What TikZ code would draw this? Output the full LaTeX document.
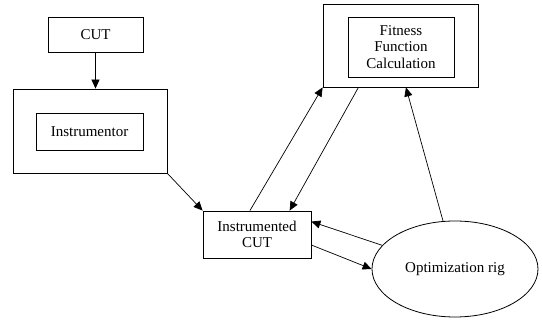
\documentclass[tikz,border=0pt]{standalone}
\usepackage{fontspec}
\setmainfont{Liberation Serif}
\usetikzlibrary{arrows.meta,calc,shapes.geometric}
\begin{document}
\begin{tikzpicture}[x=1pt,y=-1pt,
  box/.style={draw,line width=0.8pt,rectangle,inner sep=0pt,align=center,font=\fontsize{15}{16.5}\selectfont},
  conn/.style={line width=0.7pt,-{Triangle[length=9pt,width=8pt]}}]
\useasboundingbox[fill=white] (0,0) rectangle (542,320);
\node[box,minimum width=95pt,minimum height=35pt] (cut) at (95.5,34.5) {CUT};
\node[box,minimum width=154pt,minimum height=84pt] (iout) at (90,131) {};
\node[box,minimum width=107pt,minimum height=37pt] (iin) at (89.5,131.5) {Instrumentor};
\node[box,minimum width=155pt,minimum height=83pt] (fout) at (400.5,45.5) {};
\node[box,minimum width=106pt,minimum height=60pt] (fin) at (401,47) {Fitness\\Function\\Calculation};
\node[box,minimum width=108pt,minimum height=47pt] (icut) at (257,234.5) {Instrumented\\CUT};
\node[draw,line width=0.8pt,ellipse,minimum width=166pt,minimum height=96pt,inner sep=0pt,font=\fontsize{15}{16.5}\selectfont] (oval) at (455,269) {Optimization rig};
\draw[conn] (cut.south) -- (iout.north -| cut.south);
\draw[conn] (iout.south east) -- (icut.north west);
\draw[conn] ($(icut.north west)!0.435!(icut.north east)$) -- (fout.south west);
\draw[conn] ($(fout.south west)!0.23!(fout.south east)$) -- ($(icut.north west)!0.8!(icut.north east)$);
\draw[conn] (oval.104) -- ($(fout.south west)!0.535!(fout.south east)$);
\draw[conn] (oval.162) -- ($(icut.north east)!0.23!(icut.south east)$);
\draw[conn] ($(icut.north east)!0.72!(icut.south east)$) -- (oval.west);
\end{tikzpicture}
\end{document}
